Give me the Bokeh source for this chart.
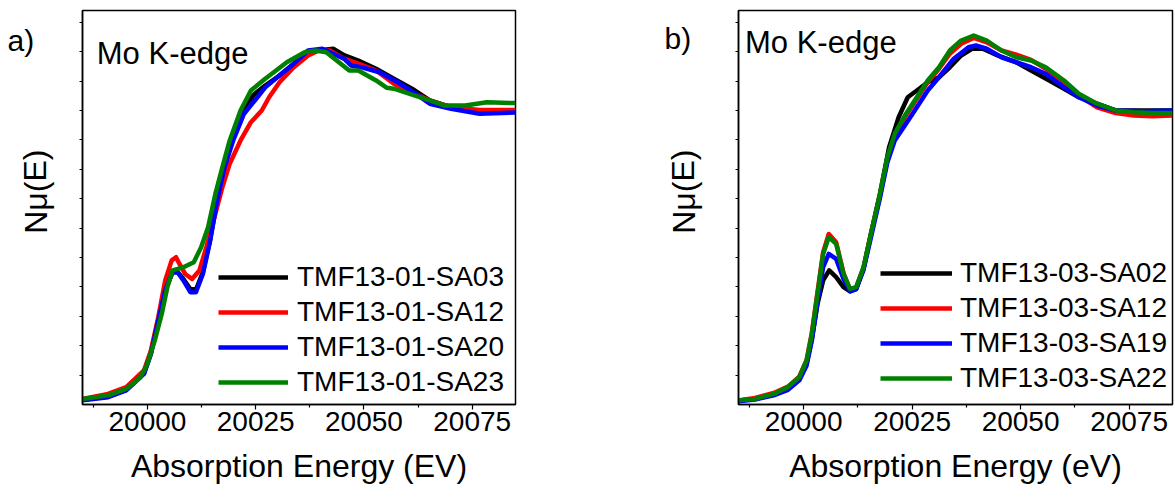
from bokeh.plotting import figure
from bokeh.models import Label, Legend, LegendItem, FixedTicker, Range1d
from bokeh.layouts import row
from bokeh.core.properties import value
from bokeh.embed import file_html
from bokeh.resources import INLINE

FONT = "Liberation Sans"

# ---------------- Panel a data (energy eV, normalised mu) ----------------
a_sa03_x = [19985.0, 19990.9, 19995.1, 19999.2, 20000.8, 20002.5, 20004.1, 20005.8, 20007.0, 20008.3,
            20009.9, 20011.2, 20012.8, 20014.5, 20016.1, 20017.8, 20019.8, 20022.3, 20024.8, 20027.2,
            20030.5, 20033.8, 20037.1, 20040.4, 20042.9, 20045.4, 20048.7, 20052.8, 20056.9, 20061.1,
            20065.2, 20070.1, 20076.7, 20085.0]
a_sa03_y = [0.016, 0.027, 0.050, 0.107, 0.175, 0.288, 0.390, 0.450, 0.450, 0.427,
            0.393, 0.390, 0.450, 0.563, 0.694, 0.813, 0.909, 1.011, 1.057, 1.085,
            1.119, 1.159, 1.198, 1.206, 1.210, 1.188, 1.170, 1.142, 1.108, 1.074,
            1.034, 1.011, 0.998, 0.998]

a_sa12_x = [19985.0, 19990.9, 19995.1, 19999.2, 20000.8, 20002.5, 20004.1, 20005.6, 20006.6, 20007.4,
            20008.7, 20010.3, 20012.0, 20013.6, 20015.7, 20017.3, 20019.0, 20021.5, 20023.9, 20026.4,
            20028.1, 20030.5, 20033.8, 20037.1, 20039.6, 20042.1, 20045.4, 20048.7, 20052.8, 20056.9,
            20061.1, 20065.2, 20070.1, 20076.7, 20085.0]
a_sa12_y = [0.019, 0.036, 0.059, 0.116, 0.184, 0.297, 0.422, 0.490, 0.501, 0.478,
            0.444, 0.427, 0.456, 0.535, 0.649, 0.739, 0.819, 0.898, 0.960, 1.000,
            1.045, 1.096, 1.147, 1.187, 1.204, 1.204, 1.176, 1.159, 1.136, 1.091,
            1.062, 1.034, 1.011, 1.002, 1.002]

a_sa20_x = [19985.0, 19990.9, 19995.1, 19999.2, 20000.8, 20002.5, 20004.1, 20005.8, 20007.0, 20008.3,
            20009.9, 20011.2, 20012.8, 20014.5, 20016.1, 20017.8, 20019.8, 20022.3, 20024.8, 20027.2,
            20030.5, 20033.8, 20037.1, 20040.4, 20042.9, 20045.4, 20047.0, 20049.5, 20053.6, 20057.8,
            20061.9, 20065.2, 20070.1, 20076.7, 20085.0]
a_sa20_y = [0.014, 0.025, 0.048, 0.104, 0.172, 0.286, 0.388, 0.450, 0.450, 0.422,
            0.382, 0.382, 0.444, 0.558, 0.694, 0.807, 0.898, 0.989, 1.034, 1.079,
            1.119, 1.159, 1.204, 1.210, 1.193, 1.176, 1.153, 1.147, 1.130, 1.096,
            1.057, 1.023, 1.006, 0.989, 0.993]

a_sa23_x = [19985.0, 19990.9, 19995.1, 19998.4, 20000.0, 20001.7, 20003.3, 20004.6, 20005.8, 20007.0,
            20008.3, 20010.7, 20012.4, 20014.0, 20015.7, 20017.3, 20019.0, 20021.5, 20023.9, 20027.2,
            20029.7, 20032.2, 20036.3, 20038.8, 20041.3, 20043.7, 20046.6, 20048.7, 20052.8, 20055.3,
            20056.9, 20061.1, 20065.2, 20068.5, 20073.4, 20078.4, 20085.0]
a_sa23_y = [0.019, 0.031, 0.053, 0.093, 0.138, 0.218, 0.308, 0.399, 0.456, 0.461,
            0.467, 0.484, 0.535, 0.603, 0.717, 0.807, 0.898, 1.000, 1.068, 1.108,
            1.136, 1.164, 1.198, 1.204, 1.198, 1.170, 1.136, 1.136, 1.102, 1.077,
            1.074, 1.054, 1.034, 1.017, 1.017, 1.028, 1.025]

# ---------------- Panel b data ----------------
b_sa02_x = [19985.0, 19988.8, 19993.1, 19996.4, 19999.0, 20000.7, 20001.9, 20003.2, 20004.5, 20005.9,
            20007.5, 20009.2, 20010.7, 20012.1, 20013.8, 20015.5, 20017.6, 20019.7, 20021.9, 20024.0,
            20026.1, 20028.6, 20031.2, 20033.7, 20036.3, 20038.8, 20041.3, 20044.7, 20049.0, 20052.4,
            20056.6, 20060.0, 20063.4, 20067.6, 20071.9, 20085.0]
b_sa02_y = [0.014, 0.019, 0.034, 0.056, 0.087, 0.141, 0.223, 0.342, 0.422, 0.456,
            0.433, 0.399, 0.385, 0.392, 0.461, 0.580, 0.717, 0.875, 0.977, 1.045,
            1.068, 1.096, 1.113, 1.147, 1.187, 1.210, 1.210, 1.187, 1.164, 1.136,
            1.102, 1.074, 1.045, 1.023, 1.000, 1.000]

b_sa12_x = [19985.0, 19988.8, 19993.1, 19996.4, 19999.0, 20000.7, 20001.9, 20003.2, 20004.5, 20005.8,
            20007.5, 20009.2, 20010.7, 20012.1, 20013.8, 20015.5, 20017.6, 20019.3, 20021.0, 20023.6,
            20026.1, 20028.6, 20031.2, 20033.7, 20036.3, 20039.2, 20042.2, 20045.6, 20049.0, 20052.4,
            20055.8, 20060.0, 20063.4, 20067.6, 20071.9, 20076.1, 20080.3, 20085.0]
b_sa12_y = [0.014, 0.022, 0.039, 0.061, 0.095, 0.152, 0.243, 0.382, 0.518, 0.580,
            0.552, 0.447, 0.390, 0.397, 0.465, 0.578, 0.711, 0.832, 0.915, 0.983,
            1.040, 1.096, 1.142, 1.193, 1.227, 1.247, 1.232, 1.204, 1.190, 1.172,
            1.142, 1.096, 1.051, 1.011, 0.991, 0.983, 0.980, 0.983]

b_sa19_x = [19985.0, 19988.8, 19993.1, 19996.4, 19999.0, 20000.7, 20001.9, 20003.2, 20004.5, 20005.8,
            20007.5, 20009.2, 20010.7, 20012.1, 20013.8, 20015.5, 20017.6, 20019.3, 20021.0, 20023.6,
            20026.1, 20028.6, 20031.2, 20034.6, 20038.0, 20039.7, 20042.2, 20045.6, 20049.0, 20052.4,
            20055.8, 20060.0, 20063.4, 20067.6, 20071.9, 20078.6, 20085.0]
b_sa19_y = [0.011, 0.017, 0.031, 0.050, 0.082, 0.133, 0.218, 0.348, 0.467, 0.512,
            0.495, 0.427, 0.385, 0.392, 0.458, 0.567, 0.703, 0.824, 0.898, 0.955,
            1.011, 1.068, 1.113, 1.176, 1.215, 1.221, 1.210, 1.181, 1.164, 1.147,
            1.125, 1.079, 1.045, 1.017, 1.000, 0.997, 1.000]

b_sa22_x = [19985.0, 19988.8, 19993.1, 19996.4, 19999.0, 20000.7, 20001.9, 20003.2, 20004.5, 20005.8,
            20007.5, 20009.2, 20010.7, 20012.1, 20013.8, 20015.5, 20017.6, 20019.3, 20021.0, 20023.6,
            20026.1, 20028.6, 20031.2, 20033.7, 20036.3, 20039.2, 20042.2, 20045.6, 20049.0, 20052.4,
            20055.8, 20060.0, 20063.4, 20067.6, 20071.9, 20076.1, 20080.3, 20085.0]
b_sa22_y = [0.014, 0.019, 0.036, 0.059, 0.093, 0.150, 0.240, 0.376, 0.512, 0.569,
            0.546, 0.444, 0.393, 0.399, 0.467, 0.580, 0.717, 0.841, 0.921, 0.989,
            1.045, 1.102, 1.147, 1.204, 1.238, 1.255, 1.238, 1.204, 1.181, 1.170,
            1.147, 1.102, 1.057, 1.023, 1.000, 0.994, 0.991, 0.991]

labels_a = ["TMF13-01-SA03", "TMF13-01-SA12", "TMF13-01-SA20", "TMF13-01-SA23"]
labels_b = ["TMF13-03-SA02", "TMF13-03-SA12", "TMF13-03-SA19", "TMF13-03-SA22"]
colors = ["#000000", "#ff0000", "#0000ff", "#008000"]
x_major = [20000, 20025, 20050, 20075]
x_minor = [19987.5, 20012.5, 20037.5, 20062.5, 20087.5]
x_range = (19985, 20085)
y_range = (0, 1.34)
y_title = "Nμ(E)"
edge_title = "Mo K-edge"

H = 498


def side_panel(width, letter, letter_x, letter_y, ylab_x, ylab_y):
    """Narrow panel carrying the panel letter and the rotated y-axis title."""
    s = figure(width=width, height=H, output_backend="svg", toolbar_location=None,
               x_range=Range1d(0, width), y_range=Range1d(0, H),
               min_border=0, x_axis_type=None, y_axis_type=None)
    s.grid.visible = False
    s.outline_line_color = None
    s.text(x=[letter_x], y=[letter_y], text=[letter], text_font=value(FONT),
           text_font_size="30px", text_color="black", text_align="left", text_baseline="middle")
    s.text(x=[ylab_x], y=[ylab_y], text=[y_title], text_font=value(FONT),
           text_font_size="32px", text_color="black", angle=1.5708,
           text_align="center", text_baseline="middle")
    return s


def make_panel(series, labels, xlabel, min_right, width, leg_loc, glyph_w, standoff, edge_xy):
    p = figure(width=width, height=H, output_backend="svg", toolbar_location=None,
               x_range=Range1d(*x_range), y_range=Range1d(*y_range),
               min_border_left=8, min_border_right=min_right,
               min_border_top=10, min_border_bottom=94)
    p.grid.visible = False
    p.outline_line_color = "black"
    p.outline_line_width = 1.5

    items = []
    for (xs, ys), lab, col in zip(series, labels, colors):
        r = p.line(xs, ys, line_color=col, line_width=4.5, line_join="round")
        items.append(LegendItem(label=lab, renderers=[r]))

    xa = p.xaxis[0]
    xa.ticker = FixedTicker(ticks=x_major, minor_ticks=x_minor)
    xa.axis_label = xlabel
    xa.axis_label_text_font = FONT
    xa.axis_label_text_font_size = "32px"
    xa.axis_label_text_font_style = "normal"
    xa.axis_label_text_color = "black"
    xa.axis_label_standoff = 14
    xa.major_label_text_font = FONT
    xa.major_label_text_font_size = "28px"
    xa.major_label_text_color = "black"
    xa.major_label_standoff = 2
    xa.major_tick_out = 5
    xa.major_tick_in = 0
    xa.minor_tick_out = 3
    xa.minor_tick_in = 0
    xa.axis_line_width = 1.5
    xa.major_tick_line_width = 1.2
    xa.minor_tick_line_width = 1.2

    ya = p.yaxis[0]
    ya.ticker = FixedTicker(ticks=[0.1 * i for i in range(1, 14)], minor_ticks=[])
    ya.major_label_text_font_size = "0px"
    ya.major_label_text_alpha = 0
    ya.major_tick_out = 3
    ya.major_tick_in = 0
    ya.axis_line_width = 1.5
    ya.major_label_standoff = 0

    leg = Legend(items=items, location=leg_loc, orientation="vertical")
    leg.label_text_font = FONT
    leg.label_text_font_size = "28px"
    leg.label_text_color = "black"
    leg.glyph_width = glyph_w
    leg.glyph_height = 32
    leg.label_height = 32
    leg.spacing = 3
    leg.padding = 0
    leg.margin = 0
    leg.label_standoff = standoff
    leg.border_line_alpha = 0
    leg.background_fill_alpha = 0
    p.add_layout(leg)

    p.add_layout(Label(x=edge_xy[0], y=edge_xy[1], text=edge_title, text_font=FONT,
                       text_font_size="31px", text_color="black",
                       text_baseline="alphabetic", text_align="left"))
    return p


la = side_panel(74, "a)", 7, H - 38, 35, H - 229)
pa = make_panel([(a_sa03_x, a_sa03_y), (a_sa12_x, a_sa12_y), (a_sa20_x, a_sa20_y), (a_sa23_x, a_sa23_y)],
                labels_a, "Absorption Energy (EV)", 53, 494,
                (136, 6), 70, 9, (19988.3, 1.194))
lb = side_panel(162, "b)", 96, H - 35, 115, H - 229)
pb = make_panel([(b_sa02_x, b_sa02_y), (b_sa12_x, b_sa12_y), (b_sa19_x, b_sa19_y), (b_sa22_x, b_sa22_y)],
                labels_b, "Absorption Energy (eV)", 2, 444,
                (142, 10), 72, 8, (19986.5, 1.231))

layout = row(la, pa, lb, pb, spacing=0)
open("out.html", "w").write(file_html(layout, INLINE))
